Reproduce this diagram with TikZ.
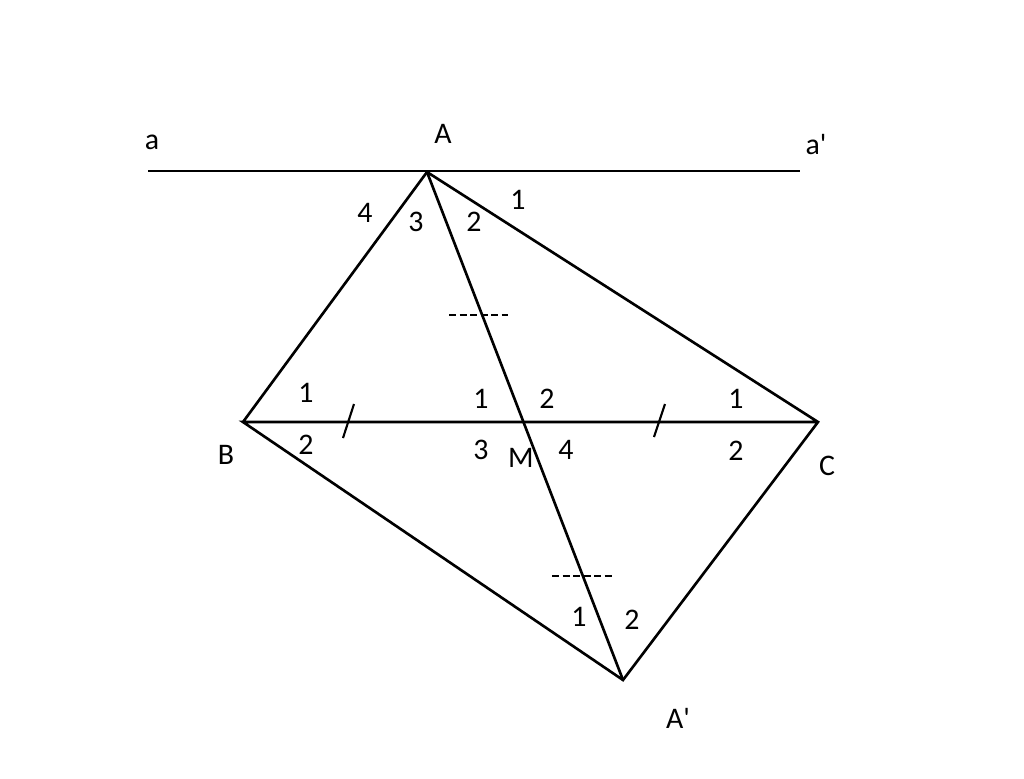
\documentclass[tikz,border=0pt]{standalone}
\usepackage{fontspec}
\setmainfont{Carlito}
\begin{document}
\begin{tikzpicture}[x=0.02cm,y=-0.02cm,line width=1.5pt,
  lbl/.style={font=\fontsize{17}{20}\selectfont,inner sep=0pt},
  eqmark/.style={line width=1.2pt,dash pattern=on 4pt off 2pt}]
\useasboundingbox (0,0) rectangle (1024,778);
\coordinate (a) at (148,171);
\coordinate (a1) at (800,171);
\coordinate (A) at (427,172);
\coordinate (B) at (243,422);
\coordinate (C) at (818,422);
\coordinate (M) at (523,422);
\coordinate (A1) at (623,680);
\draw (a) -- (a1);
\draw (B) -- (A) -- (C) -- (A1) -- (B) -- (C);
\draw (A) -- (A1);
% equal segments
\draw [line width=1.2pt] (343,438) -- (354,404);
\draw [line width=1.2pt] (654,437) -- (665,404);
\draw [eqmark] (449,315) -- (508,315);
\draw [eqmark] (552,576) -- (612,576);
% point labels
\node[lbl] (la) at (152,142) {a};
\node[lbl] (lA) at (443,134) {A};
\node[lbl] (la1) at (816,145) {a\textquotesingle};
\node[lbl] (lB) at (226,455) {B};
\node[lbl] (lC) at (827,466) {C};
\node[lbl] (lM) at (521,458) {M};
\node[lbl] (lA1) at (678,718) {A\textquotesingle};
% angle labels
\node[lbl] (A4) at (365,213) {4};
\node[lbl] (A3) at (416,222) {3};
\node[lbl] (A2) at (474,222) {2};
\node[lbl] (Aone) at (518,200) {1};
\node[lbl] (B1) at (306,393) {1};
\node[lbl] (B2) at (306,445) {2};
\node[lbl] (M1) at (481,399) {1};
\node[lbl] (M2) at (547,399) {2};
\node[lbl] (M3) at (481,450) {3};
\node[lbl] (M4) at (566,450) {4};
\node[lbl] (C1) at (736,399) {1};
\node[lbl] (C2) at (736,451) {2};
\node[lbl] (A11) at (579,617) {1};
\node[lbl] (A12) at (632,620) {2};
\end{tikzpicture}
\end{document}
